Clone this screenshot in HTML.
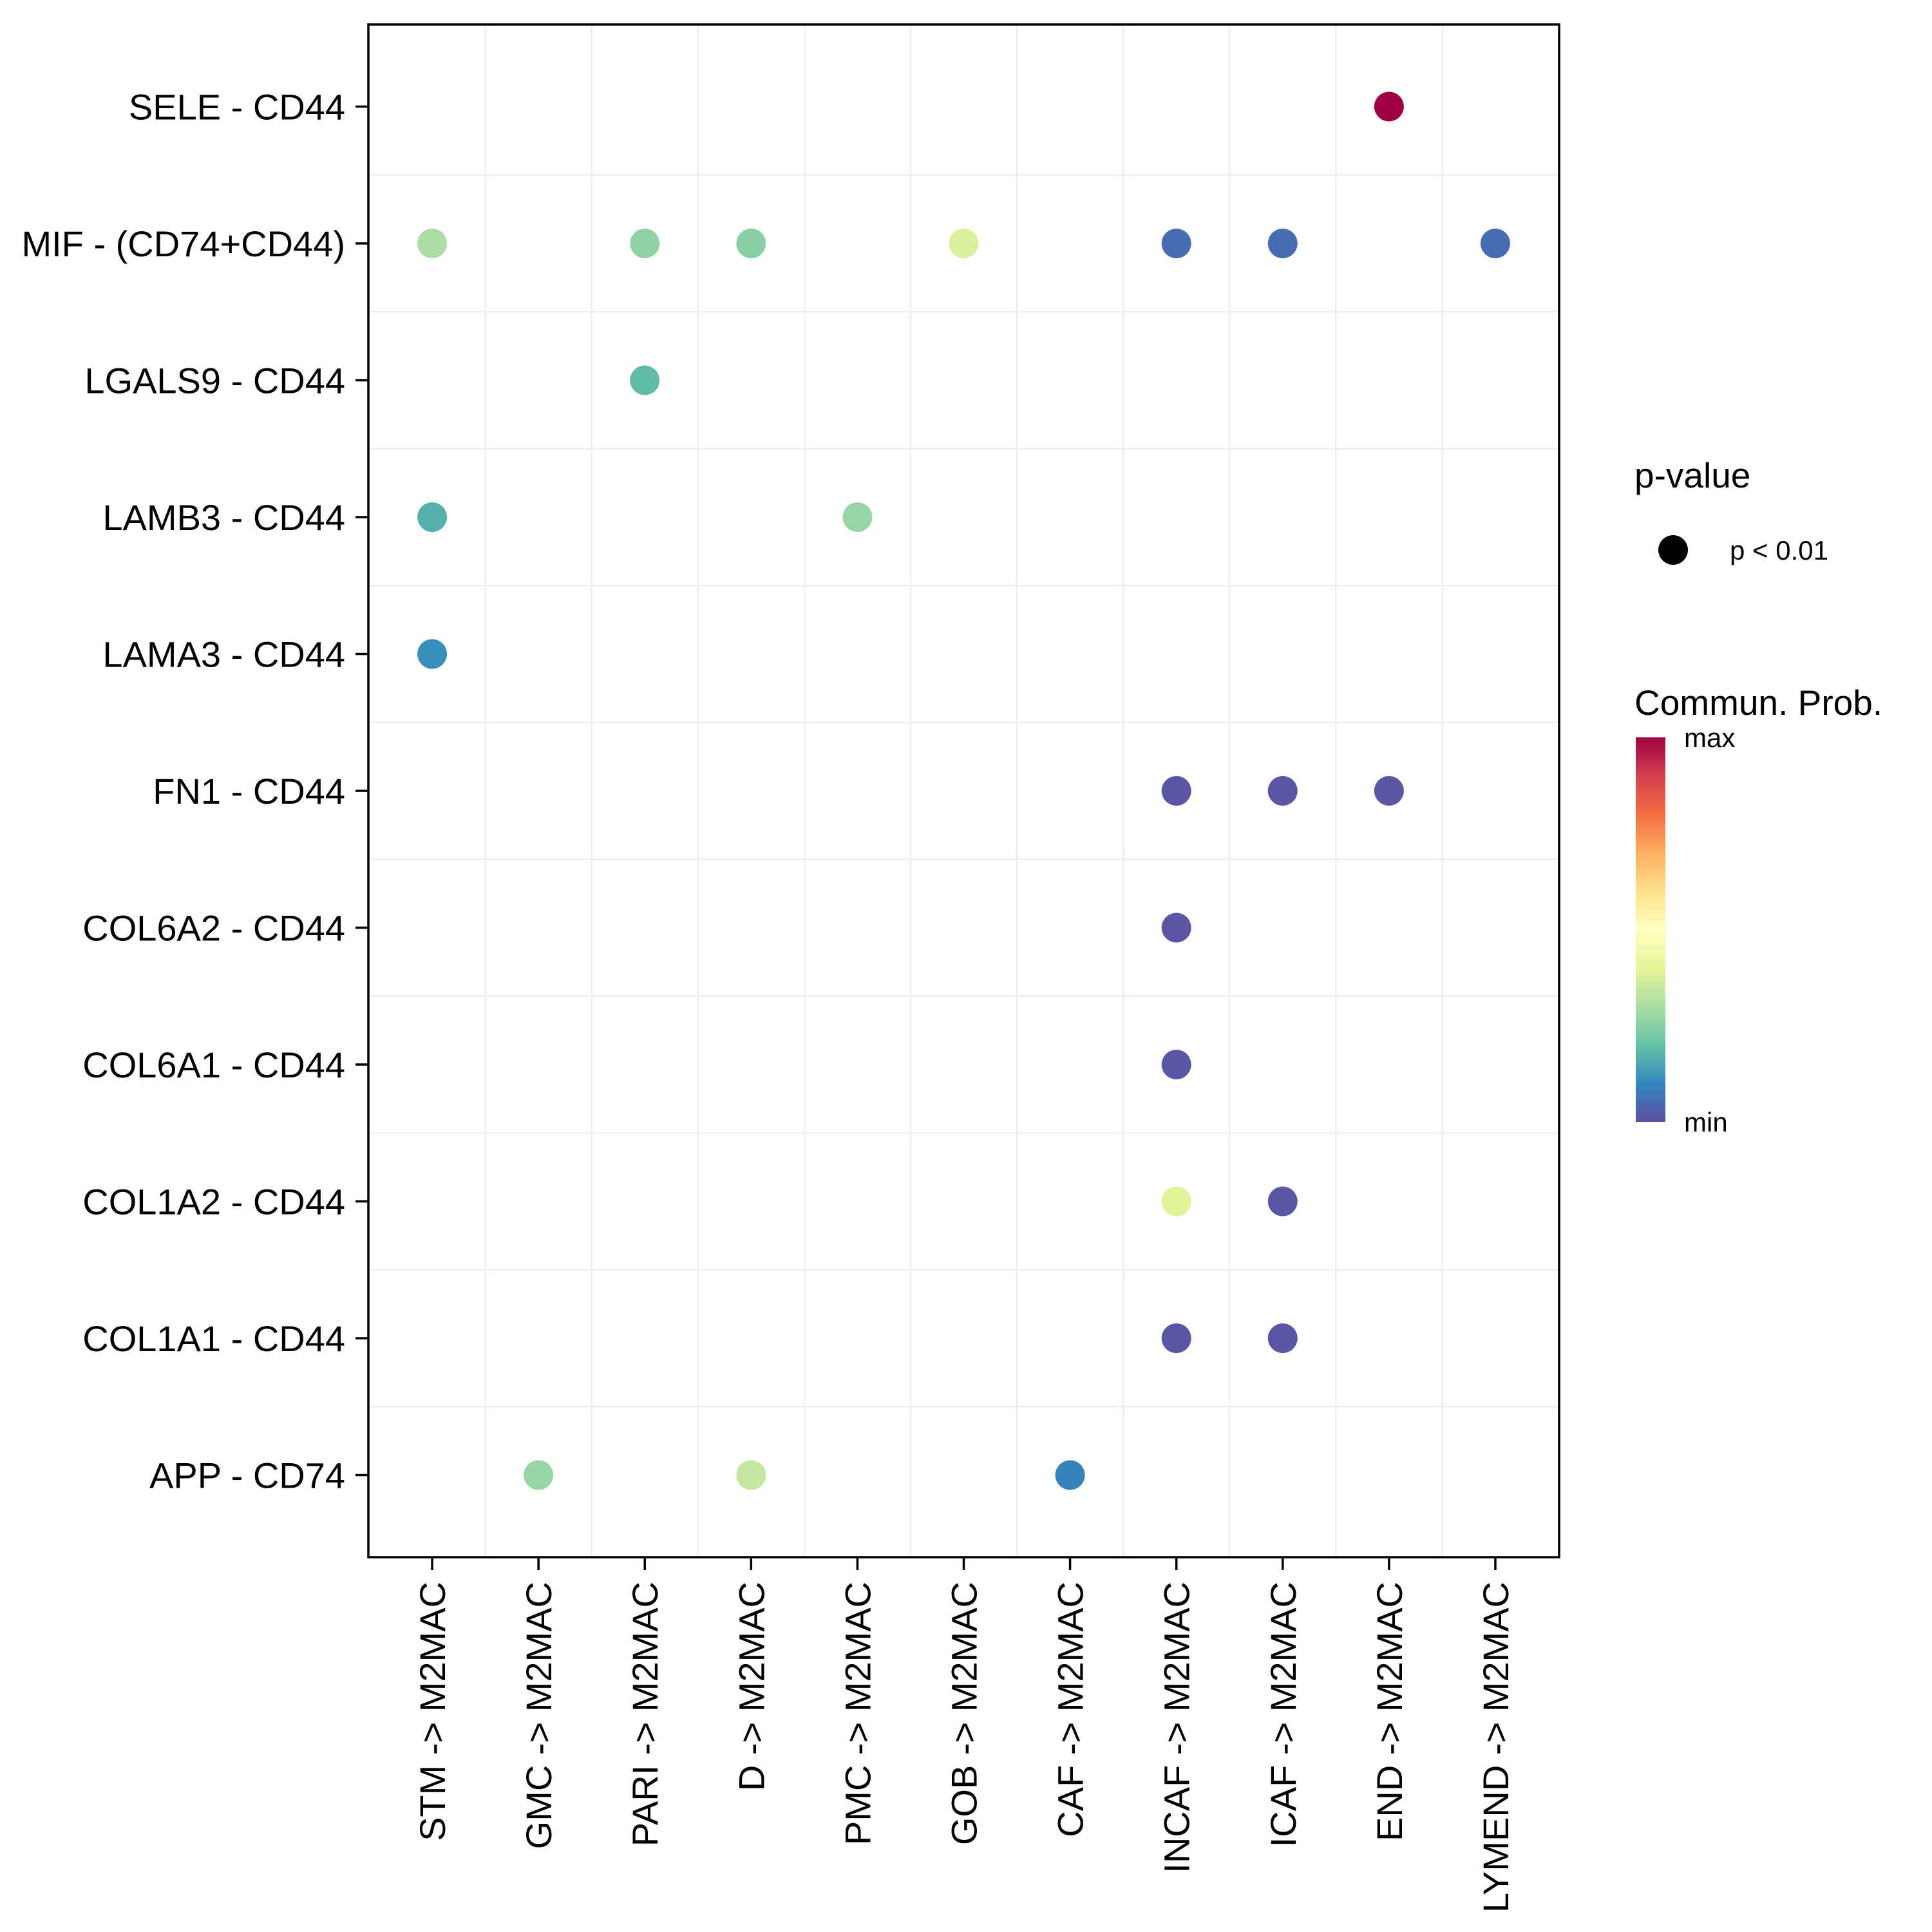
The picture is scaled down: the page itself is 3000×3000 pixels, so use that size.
<!DOCTYPE html>
<html><head><meta charset="utf-8">
<style>
html,body{margin:0;padding:0;background:#fff;}
svg{display:block;font-family:"Liberation Sans",Arial,sans-serif;}
</style></head>
<body>
<svg id="chart" width="3000" height="3000" viewBox="0 0 3000 3000" xmlns="http://www.w3.org/2000/svg">
<rect x="0" y="0" width="3000" height="3000" fill="#fff"/>
<g id="grid"></g>
<g id="points"></g>
<rect x="572" y="38" width="1849" height="2380" fill="none" stroke="#000" stroke-width="3.5"/>
<g id="yaxis"></g>
<g id="xaxis"></g>
<g>
  <text x="2538" y="757" font-size="55">p-value</text>
  <circle cx="2598" cy="854" r="23" fill="#000"/>
  <text x="2686" y="869" font-size="42">p &lt; 0.01</text>
</g>
<g>
  <defs>
    <linearGradient id="spec" x1="0" y1="1" x2="0" y2="0">
      <stop offset="0" stop-color="#5E4FA2"/><stop offset="0.1" stop-color="#3288BD"/>
      <stop offset="0.2" stop-color="#66C2A5"/><stop offset="0.3" stop-color="#ABDDA4"/>
      <stop offset="0.4" stop-color="#E6F598"/><stop offset="0.5" stop-color="#FFFFBF"/>
      <stop offset="0.6" stop-color="#FEE08B"/><stop offset="0.7" stop-color="#FDAE61"/>
      <stop offset="0.8" stop-color="#F46D43"/><stop offset="0.9" stop-color="#D53E4F"/>
      <stop offset="1" stop-color="#9E0142"/>
    </linearGradient>
  </defs>
  <text x="2538" y="1110" font-size="55">Commun. Prob.</text>
  <rect x="2540" y="1145" width="46" height="597" fill="url(#spec)"/>
  <text x="2615" y="1160" font-size="42">max</text>
  <text x="2615" y="1757" font-size="42">min</text>
</g>
</svg>
<script>
const rowLabels = ["SELE - CD44","MIF - (CD74+CD44)","LGALS9 - CD44","LAMB3 - CD44","LAMA3 - CD44","FN1 - CD44","COL6A2 - CD44","COL6A1 - CD44","COL1A2 - CD44","COL1A1 - CD44","APP - CD74"];
const colLabels = ["STM -> M2MAC","GMC -> M2MAC","PARI -> M2MAC","D -> M2MAC","PMC -> M2MAC","GOB -> M2MAC","CAF -> M2MAC","INCAF -> M2MAC","ICAF -> M2MAC","END -> M2MAC","LYMEND -> M2MAC"];
const pointRow = ["SELE - CD44","MIF - (CD74+CD44)","MIF - (CD74+CD44)","MIF - (CD74+CD44)","MIF - (CD74+CD44)","MIF - (CD74+CD44)","MIF - (CD74+CD44)","MIF - (CD74+CD44)","LGALS9 - CD44","LAMB3 - CD44","LAMB3 - CD44","LAMA3 - CD44","FN1 - CD44","FN1 - CD44","FN1 - CD44","COL6A2 - CD44","COL6A1 - CD44","COL1A2 - CD44","COL1A2 - CD44","COL1A1 - CD44","COL1A1 - CD44","APP - CD74","APP - CD74","APP - CD74"];
const pointCol = ["END -> M2MAC","STM -> M2MAC","PARI -> M2MAC","D -> M2MAC","GOB -> M2MAC","INCAF -> M2MAC","ICAF -> M2MAC","LYMEND -> M2MAC","PARI -> M2MAC","STM -> M2MAC","PMC -> M2MAC","STM -> M2MAC","INCAF -> M2MAC","ICAF -> M2MAC","END -> M2MAC","INCAF -> M2MAC","INCAF -> M2MAC","INCAF -> M2MAC","ICAF -> M2MAC","INCAF -> M2MAC","ICAF -> M2MAC","GMC -> M2MAC","D -> M2MAC","CAF -> M2MAC"];
const pointProb = [1.0,0.30,0.26,0.25,0.38,0.05,0.05,0.05,0.19,0.17,0.27,0.11,0.01,0.01,0.01,0.01,0.01,0.39,0.01,0.01,0.01,0.27,0.34,0.09];

const NS="http://www.w3.org/2000/svg";
const L=572,R=2421,T=38,B=2418;
const xs=(R-L)/(colLabels.length-1+1.2), ys=(B-T)/(rowLabels.length-1+1.2);
function xScale(c){return L+(colLabels.indexOf(c)+0.6)*xs;}
function yScale(r){return T+(rowLabels.indexOf(r)+0.6)*ys;}
const stops=["#5E4FA2","#3288BD","#66C2A5","#ABDDA4","#E6F598","#FFFFBF","#FEE08B","#FDAE61","#F46D43","#D53E4F","#9E0142"];
function hex(h){return [1,3,5].map(i=>parseInt(h.substr(i,2),16));}
function color(v){v=Math.max(0,Math.min(1,v))*10;const i=Math.min(9,Math.floor(v)),f=v-i;const a=hex(stops[i]),b=hex(stops[i+1]);return "rgb("+a.map((x,k)=>Math.round(x+(b[k]-x)*f)).join(",")+")";}
function mk(tag,attrs,parent){const e=document.createElementNS(NS,tag);for(const k in attrs)e.setAttribute(k,attrs[k]);parent.appendChild(e);return e;}
const grid=document.getElementById('grid'),pts=document.getElementById('points'),ya=document.getElementById('yaxis'),xa=document.getElementById('xaxis');
for(let i=1;i<colLabels.length;i++){
  const x=L+(i+0.1)*xs;
  const g=mk('line',{x1:x,x2:x,y1:T,y2:B,stroke:'#ebebeb','stroke-width':2},grid);
  
  
}
for(let i=1;i<rowLabels.length;i++){
  const y=T+(i+0.1)*ys;
  const g=mk('line',{x1:L,x2:R,y1:y,y2:y,stroke:'#ebebeb','stroke-width':2},grid);
  
  
}
rowLabels.forEach(r=>{
  const y=yScale(r);
  const t=mk('line',{x1:552,x2:572,y1:y,y2:y,stroke:'#000','stroke-width':3.5},ya);
  
  
  const tx=mk('text',{x:536,y:y+20,'font-size':56,'text-anchor':'end',fill:'#000'},ya);
  tx.textContent=r;
  
  
});
colLabels.forEach(c=>{
  const x=xScale(c);
  const t=mk('line',{x1:x,x2:x,y1:B,y2:B+20,stroke:'#000','stroke-width':3.5},xa);
  
  
  const tx=mk('text',{x:0,y:0,'font-size':56,'text-anchor':'end',fill:'#000',transform:'translate('+(x+20)+','+(B+38)+') rotate(-90)'},xa);
  tx.textContent=c;
  
  
});
pointProb.forEach((v,i)=>{
  const c=mk('circle',{cx:xScale(pointCol[i]),cy:yScale(pointRow[i]),r:23,fill:color(v)},pts);
  
  
});
</script>
</body></html>
